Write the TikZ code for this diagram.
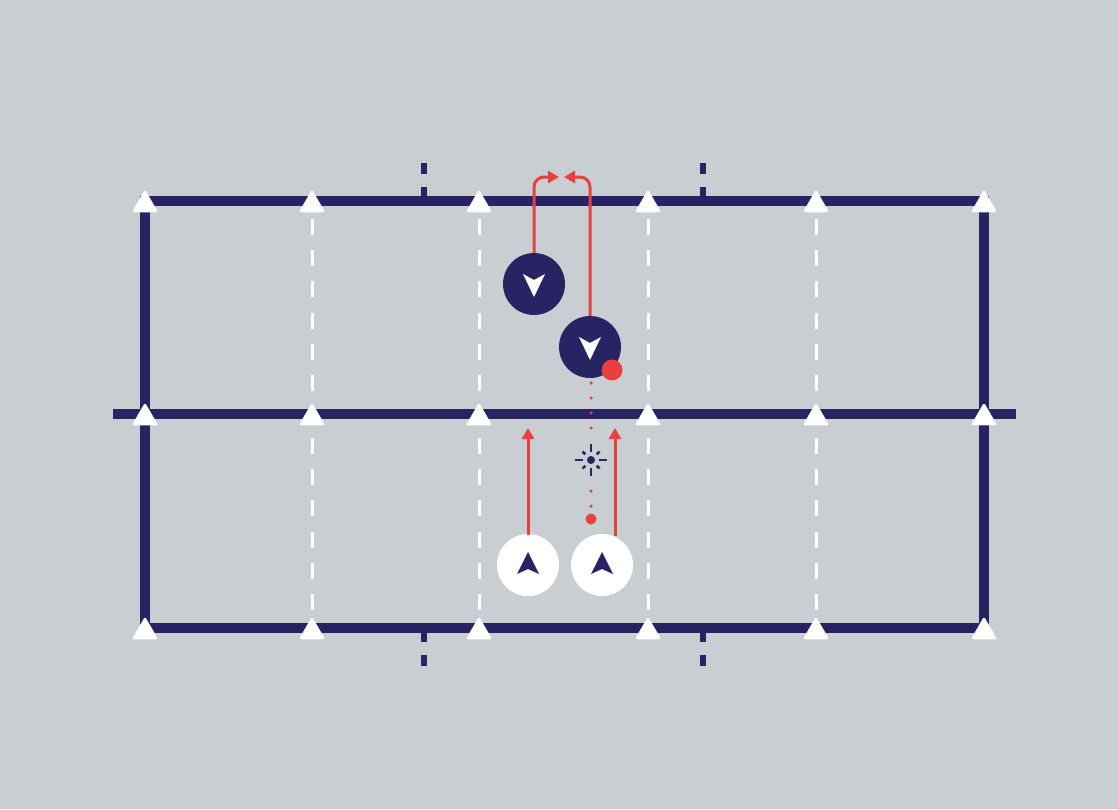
\documentclass[tikz,border=0pt]{standalone}
\usetikzlibrary{arrows.meta}
\definecolor{bg}{HTML}{C9CED2}
\definecolor{navy}{HTML}{282362}
\definecolor{redc}{HTML}{E8403A}
\tikzset{
  field/.style={draw=navy, line width=10pt},
  tick/.style={draw=navy, line width=6pt},
  lane/.style={draw=white, line width=3pt, dash pattern=on 16pt off 15.2pt},
  cone/.style={fill=white, draw=white, line width=2.5pt, line join=round},
  darkp/.style={circle, fill=navy, minimum size=62pt, inner sep=0pt},
  lightp/.style={circle, fill=white, minimum size=62pt, inner sep=0pt},
  run/.style={draw=redc, line width=3pt, -{Triangle[length=11pt,width=12pt]}},
  ball/.style={circle, fill=redc, inner sep=0pt},
  pass/.style={draw=redc, line width=3.5pt, line cap=round, dash pattern=on 0pt off 15pt},
}
\begin{document}
\begin{tikzpicture}[x=1pt,y=-1pt]
\fill[bg] (0,0) rectangle (1118,809);
\useasboundingbox (0,0) rectangle (1118,809);
% field
\draw[field] (145,201) rectangle (984,628);
\draw[field] (113,414) -- (1016,414);
% ticks
\foreach \x in {424,703}{
  \draw[tick] (\x,163) -- (\x,174);
  \draw[tick] (\x,187) -- (\x,201);
  \draw[tick] (\x,628) -- (\x,642);
  \draw[tick] (\x,655) -- (\x,666);
}
% lanes
\foreach \x in {312,479,648,816}{
  \draw[lane] (\x,219) -- (\x,391);
  \draw[lane] (\x,438) -- (\x,610);
}
% cones
\foreach \x in {145,312,479,648,816,984}{
  \foreach \y in {201,414,628}{
    \filldraw[cone] (\x-11,\y+10) -- (\x,\y-9) -- (\x+11,\y+10) -- cycle;
  }
}
% players
\node[darkp] (d1) at (534,284) {};
\node[darkp] (d2) at (590,347) {};
\node[lightp] (w1) at (528,565) {};
\node[lightp] (w2) at (602,565) {};
\foreach \n in {d1,d2}{
  \fill[white] ([shift={(-11,-10)}]\n.center) -- ([shift={(0,-4)}]\n.center) -- ([shift={(11,-10)}]\n.center) -- ([shift={(0,13)}]\n.center) -- cycle;
}
\foreach \n in {w1,w2}{
  \fill[navy] ([shift={(-11,9)}]\n.center) -- ([shift={(0,4)}]\n.center) -- ([shift={(11,9)}]\n.center) -- ([shift={(0,-13)}]\n.center) -- cycle;
}
% balls
\node[ball, minimum size=21pt] (b1) at (612,370) {};
\node[ball, minimum size=11pt] (b2) at (591,519) {};
% pass path
\coordinate (p0) at (591,383);
\coordinate (p1) at (591,430);
\coordinate (p2) at (591,491);
\coordinate (p3) at (591,507);
\draw[pass] (p0) -- (p1);
\draw[pass] (p2) -- (p3);
% burst
\node[circle, fill=navy, minimum size=8pt, inner sep=0pt] (burst) at (591,460) {};
\foreach \a in {0,90,180,270}{
  \draw[navy, line width=2.5pt] ([shift={(\a:8)}]burst.center) -- ([shift={(\a:16)}]burst.center);
}
\foreach \a in {45,135,225,315}{
  \draw[navy, line width=2.5pt] ([shift={(\a:8)}]burst.center) -- ([shift={(\a:12)}]burst.center);
}
% runs
\coordinate (r1) at (528,428);
\coordinate (r2) at (615,428);
\draw[run] ([yshift=-1pt]w1.north) -- (r1);
\draw[run] (615,536) -- (r2);
\coordinate (t1) at (559,177);
\coordinate (t2) at (564,177);
\draw[run, rounded corners=10pt] (d1.north) -- (534,177) -- (t1);
\draw[run, rounded corners=10pt] (d2.north) -- (590,177) -- (t2);
\end{tikzpicture}
\end{document}
